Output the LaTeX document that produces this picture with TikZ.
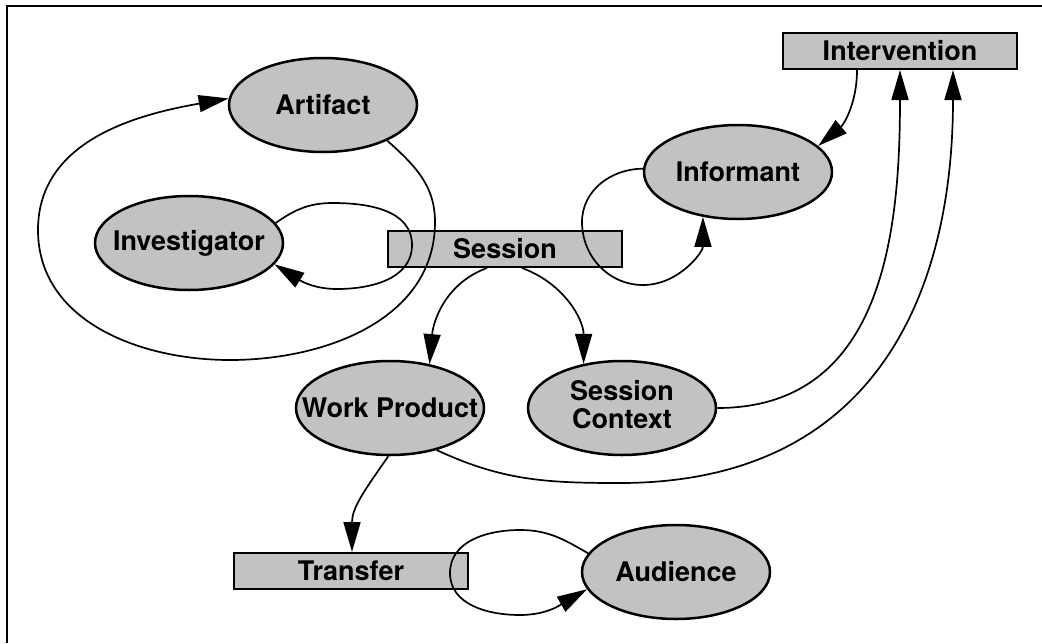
\documentclass[tikz,border=0pt]{standalone}
\usepackage{fontspec}
\setmainfont{TeX Gyre Heros}
\usetikzlibrary{arrows.meta,shapes.geometric}
\begin{document}
\begin{tikzpicture}[x=1pt,y=1pt,
  lbl/.style={font=\fontsize{27}{25}\selectfont\bfseries},
  ent/.style={ellipse, draw, line width=2.5pt, fill=black!24, minimum width=188pt, minimum height=94pt, inner sep=0pt, lbl},
  proc/.style={rectangle, draw, line width=2pt, fill=black!24, minimum width=234pt, minimum height=36pt, inner sep=0pt, lbl},
  conn/.style={line width=1.7pt, -{Triangle[length=30pt,width=17pt]}},
  frame/.style={line width=2pt}]
\useasboundingbox (0,0) rectangle (1042,-643);
\draw[frame] (7,-643) -- (7,-6) -- (1042,-6);

\node[ent] (Artifact) at (323,-105) {\makebox[0pt]{Artifact}};
\node[ent] (Investigator) at (189,-243) {\makebox[0pt]{Investigator}};
\node[proc] (Session) at (505,-249) {Session};
\node[proc] (Intervention) at (900,-51) {Intervention};
\node[ent] (Informant) at (738,-172) {\makebox[0pt]{Informant}};
\node[ent] (WorkProduct) at (390,-408) {\makebox[0pt]{Work Product}};
\node[ent] (SessionContext) at (622,-408) {\makebox[0pt]{\begin{tabular}{@{}c@{}}Session\\Context\end{tabular}}};
\node[proc] (Transfer) at (351,-571) {Transfer};
\node[ent] (Audience) at (676,-572) {\makebox[0pt]{Audience}};

% Artifact loop
\coordinate (a1) at (435,-222);
\coordinate (a2) at (230,-360);
\coordinate (a3) at (38,-230);
\draw[conn] (Artifact.-29) to[out=-42,in=90] (a1) to[out=-90,in=0] (a2)
  to[out=180,in=-90] (a3) to[out=90,in=190] (Artifact.176);

% Investigator loop
\coordinate (i1) at (333,-203);
\coordinate (i2) at (412,-245);
\coordinate (i3) at (337,-289);
\draw[conn] (Investigator.13) to[out=35,in=180] (i1) to[out=0,in=90] (i2)
  to[out=-90,in=0] (i3) to[out=180,in=-32] (Investigator.-14);

% Informant loop
\coordinate (n1) at (582,-222);
\coordinate (n2) at (643,-285);
\draw[conn] (Informant.178) to[out=180,in=90] (n1) to[out=-90,in=180] (n2)
  to[out=0,in=-90] (Informant.232);

% Intervention -> Informant
\draw[conn] ([xshift=-43pt]Intervention.south) to[out=-90,in=40] (Informant.18);

% Session Context -> Intervention
\draw[conn] (SessionContext.0) to[out=0,in=-90,looseness=1.1] (Intervention.south);

% Work Product -> Intervention
\coordinate (w1) at (620,-483);
\draw[conn] (WorkProduct.-42) to[out=-25,in=180] (w1)
  .. controls (870,-483) and (953,-300) .. ([xshift=53pt]Intervention.south);

% Session -> Work Product, Session Context
\draw[conn] ([xshift=-18pt]Session.south) to[out=200,in=85] (WorkProduct.48);
\draw[conn] ([xshift=17pt]Session.south) to[out=-20,in=90] (SessionContext.131);

% Work Product -> Transfer
\draw[conn] (WorkProduct.-92) to[out=-125,in=90,looseness=1.1] ([xshift=1pt]Transfer.north);

% Audience loop through Transfer
\coordinate (u1) at (520,-530);
\coordinate (u2) at (450,-573);
\coordinate (u3) at (520,-615);
\draw[conn] (Audience.168) to[out=150,in=0] (u1) to[out=180,in=90] (u2)
  to[out=-90,in=180] (u3) to[out=0,in=210] (Audience.191);
\end{tikzpicture}
\end{document}
